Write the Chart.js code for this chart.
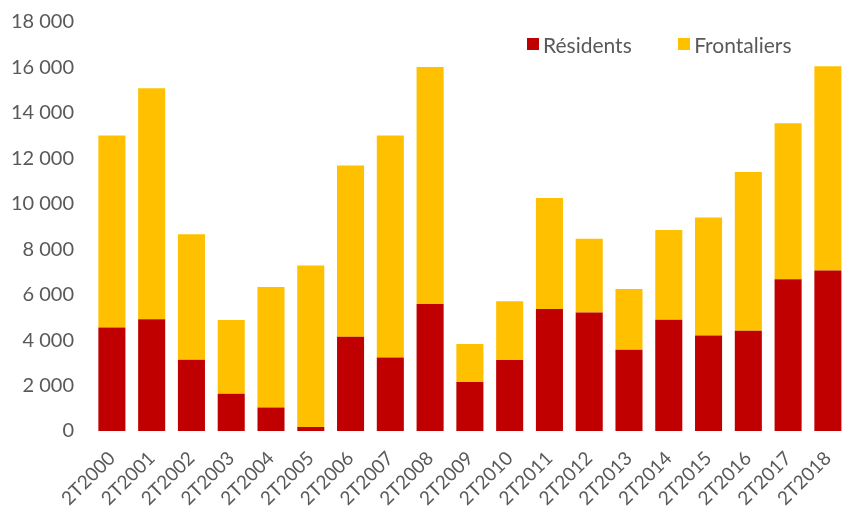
<!DOCTYPE html>
<html lang="fr">
<head>
<meta charset="utf-8">
<title>Résidents et frontaliers</title>
<script src="https://cdn.jsdelivr.net/npm/chart.js@4.4.1/dist/chart.umd.min.js"></script>
<style>
  html, body { margin: 0; padding: 0; background: #fff; overflow: hidden; }
  .wrap { position: relative; width: 852px; height: 509px; }
  .legende { position: absolute; top: 27px; left: 527px; font-family: Lato, sans-serif; font-size: 21px; color: #595959; white-space: nowrap; }
  .legende span { display: inline-block; vertical-align: middle; }
  .legende .box { width: 12px; height: 12px; margin-right: 4px; }
  .legende .item { margin-right: 41px; }
</style>
</head>
<body>
<div class="wrap">
  <canvas id="grafico" width="852" height="509"></canvas>
  <div class="legende">
    <span class="item"><span class="box" style="background:#C00000"></span><span>Résidents</span></span>
    <span><span class="box" style="background:#FFC000"></span><span>Frontaliers</span></span>
  </div>
</div>
<script>
// Dados (emploi, 2e trimestre)
const trimestres = ['2T2000', '2T2001', '2T2002', '2T2003', '2T2004', '2T2005', '2T2006', '2T2007', '2T2008', '2T2009',
  '2T2010', '2T2011', '2T2012', '2T2013', '2T2014', '2T2015', '2T2016', '2T2017', '2T2018'];
const residents = [4560, 4920, 3140, 1640, 1030, 180, 4150, 3240, 5590, 2160,
  3120, 5370, 5220, 3580, 4900, 4200, 4410, 6680, 7060];
const frontaliers = [8440, 10160, 5520, 3250, 5310, 7100, 7530, 9760, 10430, 1670,
  2590, 4880, 3240, 2670, 3950, 5200, 6990, 6860, 8990];
const yMax = 18000;
const yPas = 2000;

Chart.defaults.font.family = "Lato, sans-serif";
Chart.defaults.color = '#595959';

const ctx = document.getElementById('grafico').getContext('2d');

const grafico = new Chart(ctx, {
  type: 'bar',
  data: {
    labels: trimestres,
    datasets: [{
      label: 'Résidents',
      data: residents,
      backgroundColor: '#C00000',
      borderWidth: 0
    },
    {
      label: 'Frontaliers',
      data: frontaliers,
      backgroundColor: '#FFC000',
      borderWidth: 0
    }]
  },
  options: {
    responsive: false,
    animation: false,
    layout: { padding: { left: 10, top: 0, right: 0, bottom: 0 } },
    datasets: { bar: { categoryPercentage: 0.68, barPercentage: 1 } },
    plugins: {
      legend: { display: false }, // legenda HTML acima
      tooltip: { enabled: false }
    },
    scales: {
      x: {
        stacked: true,
        grid: { display: false },
        border: { display: false },
        afterFit: s => { s.height = 78; }, // altura fixa das etiquetas
        ticks: { font: { size: 19 }, maxRotation: 45, minRotation: 45, padding: 8 }
      },
      y: {
        stacked: true,
        min: 0,
        max: yMax,
        grid: { display: false },
        border: { display: false },
        afterFit: s => { s.width = 82; }, // largura fixa do eixo
        ticks: {
          stepSize: yPas,
          font: { size: 20 },
          padding: 10,
          callback: v => String(v).replace(/\B(?=(\d{3})+(?!\d))/g, ' ')
        }
      }
    }
  }
});
</script>
</body>
</html>
